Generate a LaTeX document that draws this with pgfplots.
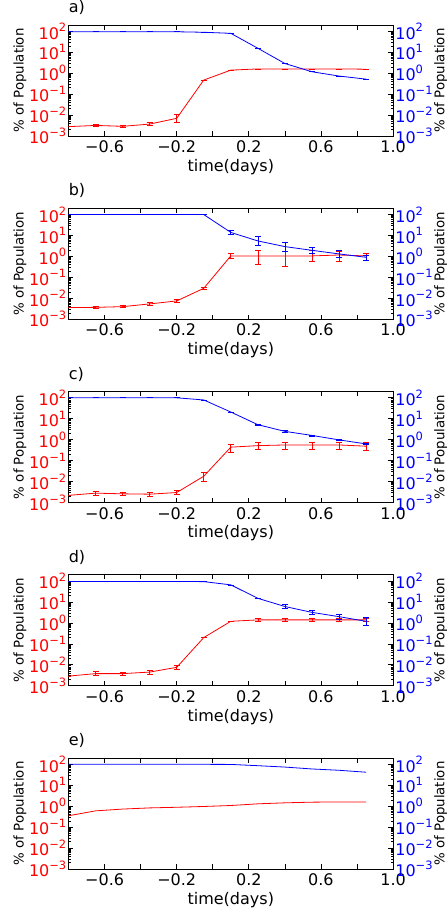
\documentclass[border=0pt]{standalone}
\usepackage{fontspec}
\setmainfont{DejaVu Sans}
\usepackage{pgfplots}
\pgfplotsset{compat=1.18}

\newcommand\lblfont{\fontsize{12}{14}\selectfont}
\newcommand\supx[1]{\raisebox{0.45em}{\fontsize{8.6}{9}\selectfont #1}}

% settings shared by every axis
\pgfplotsset{
  scale only axis, width=243.4pt, height=83.25pt,
  xmin=-0.8, xmax=1.0,
  ymin=1e-3, ymax=200,
  ytick={1e-3,1e-2,1e-1,1,10,100},
  yticklabels={10\supx{−3},10\supx{−2},10\supx{−1},10\supx{0},10\supx{1},10\supx{2}},
  tick align=inside, major tick length=3.5pt, minor tick length=1.8pt,
  tick style={black, line width=0.5pt},
  axis line style={line width=0.6pt},
  tick label style={font=\lblfont}, label style={font=\lblfont},
  ylabel={\% of Population},
  yticklabel style={inner xsep=1.5pt},
  title style={at={(rel axis cs:0,1)}, anchor=south west, inner sep=0pt, yshift=1.5pt, font=\lblfont},
  xlabel style={yshift=2pt},
  lylab/.style={every axis y label/.style={at={(rel axis cs:0,0.5)}, xshift=-36.5pt, anchor=center, rotate=90}},
  rylab/.style={every axis y label/.style={at={(rel axis cs:1,0.5)}, xshift=35.8pt, anchor=center, rotate=90}},
}
\tikzset{
  rline/.style={red, line width=0.6pt},
  bline/.style={blue, line width=0.6pt},
}

\begin{document}
\begin{tikzpicture}
\useasboundingbox (-51.4pt,18.75pt) rectangle (283.1pt,-663pt);

% a)
\begin{axis}[ymode=log, anchor=north west, at={(0,0)}, title={a)}, lylab,
  xtick={-0.8,-0.6,-0.4,-0.2,0,0.2,0.4,0.6,0.8,1.0},
  xticklabels={,−0.6,,−0.2,,0.2,,0.6,,1.0}, xtick pos=both, ytick pos=left,
  yticklabel style={red}, xlabel={time(days)}]
\addplot[rline, mark=none, error bars/.cd, y dir=both, y explicit,
  error bar style={red, line width=0.5pt}, error mark options={rotate=90, red, mark size=2.2pt, line width=0.5pt}]
coordinates {
(-0.8,0.0028) += (0,0) -= (0,0)
(-0.65,0.0032) += (0,0.0005) -= (0,0.0004)
(-0.5,0.0029) += (0,0.0003) -= (0,0.0003)
(-0.35,0.0037) += (0,0.0006) -= (0,0.0005)
(-0.2,0.007) += (0,0.004) -= (0,0.0024)
(-0.05,0.47) += (0,0) -= (0,0)
(0.1,1.4) += (0,0) -= (0,0)
(0.25,1.6) += (0,0) -= (0,0)
(0.4,1.6) += (0,0) -= (0,0)
(0.55,1.6) += (0,0) -= (0,0)
(0.7,1.6) += (0,0) -= (0,0)
(0.85,1.55) += (0,0) -= (0,0)
};
\end{axis}
\begin{axis}[ymode=log, anchor=north west, at={(0,0)}, axis y line*=right, axis x line=none,
  yticklabel style={blue}, rylab]
\addplot[bline, mark=none, error bars/.cd, y dir=both, y explicit,
  error bar style={blue, line width=0.5pt}, error mark options={rotate=90, blue, mark size=2.2pt, line width=0.5pt}]
coordinates {
(-0.8,96) += (0,0) -= (0,0)
(-0.65,96) += (0,0) -= (0,0)
(-0.5,96) += (0,0) -= (0,0)
(-0.35,96) += (0,0) -= (0,0)
(-0.2,95) += (0,0) -= (0,0)
(-0.05,90) += (0,0) -= (0,0)
(0.1,80) += (0,0) -= (0,0)
(0.25,15.5) += (0,0) -= (0,0)
(0.4,2.9) += (0,0) -= (0,0)
(0.55,1.17) += (0,0) -= (0,0)
(0.7,0.73) += (0,0) -= (0,0)
(0.85,0.52) += (0,0) -= (0,0)
};
\end{axis}

% b)
\begin{axis}[ymode=log, anchor=north west, at={(0,-137.44pt)}, title={b)}, lylab,
  xtick={-0.8,-0.6,-0.4,-0.2,0,0.2,0.4,0.6,0.8,1.0},
  xticklabels={,−0.6,,−0.2,,0.2,,0.6,,1.0}, xtick pos=both, ytick pos=left,
  yticklabel style={red}, xlabel={time(days)}]
\addplot[rline, mark=none, error bars/.cd, y dir=both, y explicit,
  error bar style={red, line width=0.5pt}, error mark options={rotate=90, red, mark size=2.2pt, line width=0.5pt}]
coordinates {
(-0.8,0.0036) += (0,0) -= (0,0)
(-0.65,0.0037) += (0,0.0005) -= (0,0.0004)
(-0.5,0.0040) += (0,0.0005) -= (0,0.0004)
(-0.35,0.0054) += (0,0.0008) -= (0,0.0007)
(-0.2,0.0075) += (0,0.001) -= (0,0.0009)
(-0.05,0.030) += (0,0.004) -= (0,0.0035)
(0.1,1.06) += (0,0.37) -= (0,0.27)
(0.25,1.06) += (0,0.94) -= (0,0.62)
(0.4,1.06) += (0,0.64) -= (0,0.74)
(0.55,1.06) += (0,0.84) -= (0,0.5)
(0.7,1.17) += (0,0.68) -= (0,0.61)
(0.85,1.06) += (0,0.34) -= (0,0.38)
};
\end{axis}
\begin{axis}[ymode=log, anchor=north west, at={(0,-137.44pt)}, axis y line*=right, axis x line=none,
  yticklabel style={blue}, rylab]
\addplot[bline, mark=none, error bars/.cd, y dir=both, y explicit,
  error bar style={blue, line width=0.5pt}, error mark options={rotate=90, blue, mark size=2.2pt, line width=0.5pt}]
coordinates {
(-0.8,100) += (0,0) -= (0,0)
(-0.65,100) += (0,0) -= (0,0)
(-0.5,100) += (0,0) -= (0,0)
(-0.35,100) += (0,0) -= (0,0)
(-0.2,100) += (0,0) -= (0,0)
(-0.05,100) += (0,0) -= (0,0)
(0.1,14) += (0,3.6) -= (0,2.9)
(0.25,5.5) += (0,3.5) -= (0,2.2)
(0.4,2.95) += (0,1.65) -= (0,1.25)
(0.55,1.96) += (0,0.64) -= (0,0.56)
(0.7,1.32) += (0,0.58) -= (0,0.41)
(0.85,0.91) += (0,0.23) -= (0,0.25)
};
\end{axis}

% c)
\begin{axis}[ymode=log, anchor=north west, at={(0,-274.88pt)}, title={c)}, lylab,
  xtick={-0.8,-0.6,-0.4,-0.2,0,0.2,0.4,0.6,0.8,1.0},
  xticklabels={,−0.6,,−0.2,,0.2,,0.6,,1.0}, xtick pos=both, ytick pos=left,
  yticklabel style={red}, xlabel={time(days)}]
\addplot[rline, mark=none, error bars/.cd, y dir=both, y explicit,
  error bar style={red, line width=0.5pt}, error mark options={rotate=90, red, mark size=2.2pt, line width=0.5pt}]
coordinates {
(-0.8,0.0022) += (0,0) -= (0,0)
(-0.65,0.0028) += (0,0.0007) -= (0,0.0006)
(-0.5,0.0026) += (0,0.0006) -= (0,0.0005)
(-0.35,0.0025) += (0,0.0006) -= (0,0.0005)
(-0.2,0.0030) += (0,0.0007) -= (0,0.0006)
(-0.05,0.018) += (0,0.011) -= (0,0.0078)
(0.1,0.44) += (0,0.19) -= (0,0.18)
(0.25,0.52) += (0,0.2) -= (0,0.19)
(0.4,0.56) += (0,0.23) -= (0,0.22)
(0.55,0.56) += (0,0.23) -= (0,0.22)
(0.7,0.56) += (0,0.23) -= (0,0.22)
(0.85,0.49) += (0,0.3) -= (0,0.17)
};
\end{axis}
\begin{axis}[ymode=log, anchor=north west, at={(0,-274.88pt)}, axis y line*=right, axis x line=none,
  yticklabel style={blue}, rylab]
\addplot[bline, mark=none, error bars/.cd, y dir=both, y explicit,
  error bar style={blue, line width=0.5pt}, error mark options={rotate=90, blue, mark size=2.2pt, line width=0.5pt}]
coordinates {
(-0.8,100) += (0,0) -= (0,0)
(-0.65,100) += (0,0) -= (0,0)
(-0.5,100) += (0,0) -= (0,0)
(-0.35,100) += (0,0) -= (0,0)
(-0.2,100) += (0,0) -= (0,0)
(-0.05,79) += (0,0) -= (0,0)
(0.1,21) += (0,0) -= (0,0)
(0.25,5.2) += (0,0.3) -= (0,0.3)
(0.4,2.5) += (0,0.15) -= (0,0.15)
(0.55,1.6) += (0,0.1) -= (0,0.1)
(0.7,0.98) += (0,0.06) -= (0,0.06)
(0.85,0.63) += (0,0.06) -= (0,0.06)
};
\end{axis}

% d)
\begin{axis}[ymode=log, anchor=north west, at={(0,-412.32pt)}, title={d)}, lylab,
  xtick={-0.8,-0.6,-0.4,-0.2,0,0.2,0.4,0.6,0.8,1.0},
  xticklabels={,−0.6,,−0.2,,0.2,,0.6,,1.0}, xtick pos=both, ytick pos=left,
  yticklabel style={red}, xlabel={time(days)}]
\addplot[rline, mark=none, error bars/.cd, y dir=both, y explicit,
  error bar style={red, line width=0.5pt}, error mark options={rotate=90, red, mark size=2.2pt, line width=0.5pt}]
coordinates {
(-0.8,0.0029) += (0,0) -= (0,0)
(-0.65,0.0038) += (0,0.0010) -= (0,0.0008)
(-0.5,0.0038) += (0,0.0007) -= (0,0.0006)
(-0.35,0.0045) += (0,0.0009) -= (0,0.0008)
(-0.2,0.0076) += (0,0.0021) -= (0,0.0016)
(-0.05,0.20) += (0,0) -= (0,0)
(0.1,1.2) += (0,0) -= (0,0)
(0.25,1.4) += (0,0.3) -= (0,0.25)
(0.4,1.4) += (0,0.2) -= (0,0.2)
(0.55,1.4) += (0,0.2) -= (0,0.2)
(0.7,1.4) += (0,0.3) -= (0,0.25)
(0.85,1.4) += (0,0.2) -= (0,0.2)
};
\end{axis}
\begin{axis}[ymode=log, anchor=north west, at={(0,-412.32pt)}, axis y line*=right, axis x line=none,
  yticklabel style={blue}, rylab]
\addplot[bline, mark=none, error bars/.cd, y dir=both, y explicit,
  error bar style={blue, line width=0.5pt}, error mark options={rotate=90, blue, mark size=2.2pt, line width=0.5pt}]
coordinates {
(-0.8,96) += (0,0) -= (0,0)
(-0.65,96) += (0,0) -= (0,0)
(-0.5,96) += (0,0) -= (0,0)
(-0.35,96) += (0,0) -= (0,0)
(-0.2,96) += (0,0) -= (0,0)
(-0.05,94) += (0,0) -= (0,0)
(0.1,66) += (0,0) -= (0,0)
(0.25,15) += (0,0) -= (0,0)
(0.4,6.1) += (0,1.5) -= (0,1.2)
(0.55,3.2) += (0,0.6) -= (0,0.5)
(0.7,2.0) += (0,0.6) -= (0,0.5)
(0.85,1.2) += (0,0.65) -= (0,0.42)
};
\end{axis}

% e)
\begin{axis}[ymode=log, anchor=north west, at={(0,-549.76pt)}, title={e)}, lylab,
  xtick={-0.8,-0.6,-0.4,-0.2,0,0.2,0.4,0.6,0.8,1.0},
  xticklabels={,−0.6,,−0.2,,0.2,,0.6,,1.0}, xtick pos=both, ytick pos=left,
  yticklabel style={red}, xlabel={time(days)}]
\addplot[rline, mark=none] coordinates {
(-0.8,0.35) (-0.65,0.60) (-0.5,0.73) (-0.35,0.83) (-0.2,0.89) (-0.05,0.97)
(0.1,1.08) (0.25,1.3) (0.4,1.45) (0.55,1.56) (0.7,1.6) (0.85,1.6)
};
\end{axis}
\begin{axis}[ymode=log, anchor=north west, at={(0,-549.76pt)}, axis y line*=right, axis x line=none,
  yticklabel style={blue}, rylab]
\addplot[bline, mark=none] coordinates {
(-0.8,100) (-0.65,100) (-0.5,100) (-0.35,100) (-0.2,100) (-0.05,100)
(0.1,99) (0.25,86) (0.4,74) (0.55,60) (0.7,52) (0.85,42)
};
\end{axis}
\end{tikzpicture}
\end{document}
